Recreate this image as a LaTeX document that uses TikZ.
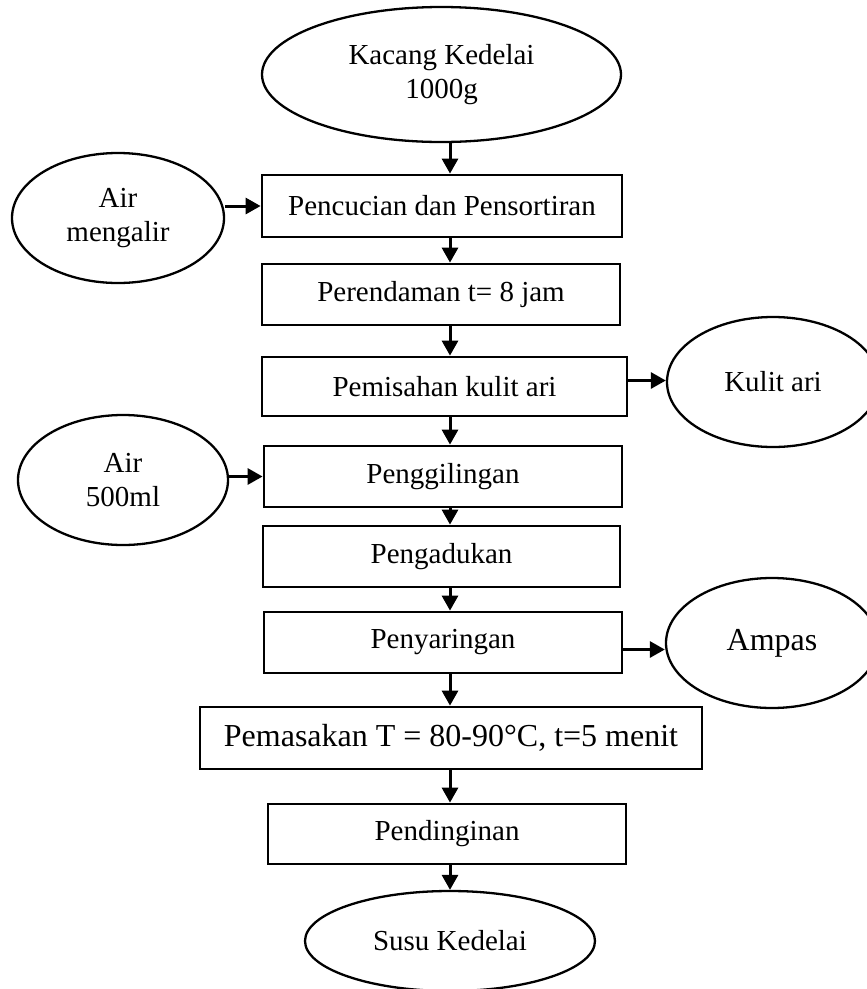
\documentclass[tikz,border=0pt]{standalone}
\usepackage{fontspec}
\setmainfont{Liberation Serif}
\usetikzlibrary{shapes.geometric,arrows.meta}

\begin{document}
\begin{tikzpicture}[x=1pt,y=1pt,
  every node/.style={font=\fontsize{29}{34}\selectfont,align=center,inner sep=0pt},
  stepbox/.style={draw,line width=2.8pt,rectangle,minimum width=358,minimum height=61},
  stuff/.style={draw,line width=2.3pt,ellipse,minimum width=212,minimum height=130},
  big/.style={font=\fontsize{32}{36}\selectfont},
  flow/.style={line width=3pt,-{Triangle[length=15pt,width=16pt]}}]
  \clip (0,0) rectangle (867,-989);
  \coordinate (axis) at (450,0);
  \node[stuff,minimum width=359,minimum height=135] (kacang) at (441.5,-74.5) {Kacang Kedelai\\1000g};
  \node[stepbox,minimum width=360,minimum height=62] (cuci) at (442,-206) {Pencucian dan Pensortiran};
  \node[stuff] (airalir) at (118,-218) {Air\\mengalir};
  \node[stepbox] (rendam) at (441,-294.5) {Perendaman t= 8 jam};
  \node[stepbox,minimum width=365,minimum height=59] (pisah) at (444.5,-386.5) {Pemisahan kulit ari};
  \node[stuff] (kulit) at (773,-382) {Kulit ari};
  \node[stepbox] (giling) at (443,-476.5) {Penggilingan};
  \node[stuff,minimum width=210] (air500) at (123,-480) {Air\\500ml};
  \node[stepbox,minimum width=357] (aduk) at (441.5,-556.5) {Pengadukan};
  \node[stepbox] (saring) at (443,-642.5) {Penyaringan};
  \node[stuff,big] (ampas) at (772,-643) {Ampas};
  \node[stepbox,big,minimum width=502,minimum height=62] (masak) at (451,-738) {Pemasakan T = 80-90°C, t=5 menit};
  \node[stepbox,minimum height=60] (dingin) at (447,-834) {Pendinginan};
  \node[stuff,minimum width=290,minimum height=100] (susu) at (450,-941) {Susu Kedelai};
  \coordinate (kulitout) at ([yshift=6]pisah.east);
  \coordinate (ampasout) at ([yshift=-7]saring.east);

  \draw[flow] (kacang.south -| axis) -- (cuci.north -| axis);
  \draw[flow] (cuci.south -| axis) -- (rendam.north -| axis);
  \draw[flow] (rendam.south -| axis) -- (pisah.north -| axis);
  \draw[flow] (pisah.south -| axis) -- (giling.north -| axis);
  \draw[flow] (giling.south -| axis) -- (aduk.north -| axis);
  \draw[flow] (aduk.south -| axis) -- (saring.north -| axis);
  \draw[flow] (saring.south -| axis) -- (masak.north -| axis);
  \draw[flow] (masak.south -| axis) -- (dingin.north -| axis);
  \draw[flow] (dingin.south -| axis) -- (susu.north -| axis);
  \draw[flow] (airalir.east |- cuci.west) -- (cuci.west);
  \draw[flow] (air500.east |- giling.west) -- (giling.west);
  \draw[flow] (kulitout) -- (kulit.west |- kulitout);
  \draw[flow] (ampasout) -- (ampas.west |- ampasout);
\end{tikzpicture}
\end{document}
